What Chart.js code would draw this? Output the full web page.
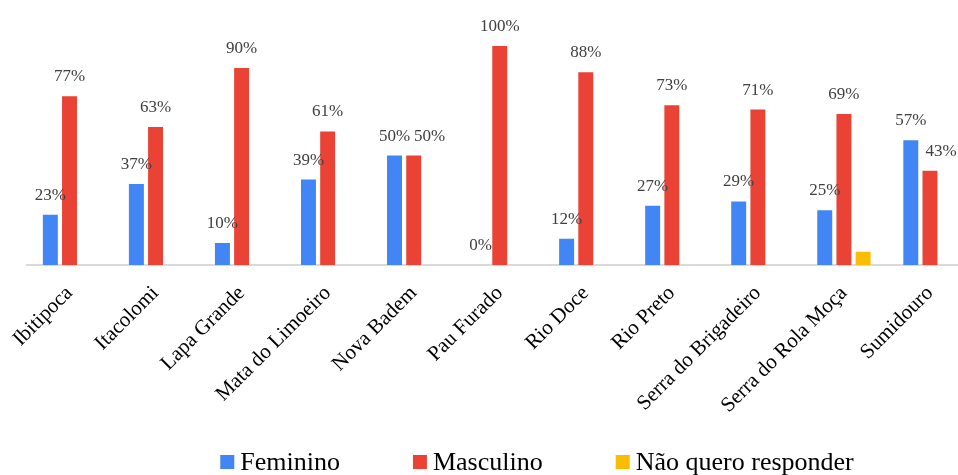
<!DOCTYPE html>
<html>
<head>
<meta charset="utf-8">
<script src="https://cdn.jsdelivr.net/npm/chart.js@4.4.0/dist/chart.umd.min.js"></script>
<style>
  html, body { margin: 0; padding: 0; background: #fff; overflow: hidden; width: 958px; height: 475px; }
  #wrap { width: 958px; height: 475px; overflow: hidden; position: relative; }
  canvas { display: block; }
</style>
</head>
<body>
<div id="wrap"><canvas id="chart" width="990" height="475"></canvas></div>
<script>
// Parques: respostas por sexo (%)
const categories = [
  'Ibitipoca', 'Itacolomi', 'Lapa Grande', 'Mata do Limoeiro', 'Nova Badem',
  'Pau Furado', 'Rio Doce', 'Rio Preto', 'Serra do Brigadeiro',
  'Serra do Rola Moça', 'Sumidouro'
];
const feminino     = [23, 37, 10, 39, 50, 0, 12, 27, 29, 25, 57];
const masculino    = [77, 63, 90, 61, 50, 100, 88, 73, 71, 69, 43];
const naoResponder = [0, 0, 0, 0, 0, 0, 0, 0, 0, 6, 0];
const seriesNames  = ['Feminino', 'Masculino', 'Não quero responder'];
const seriesColors = ['#4285F4', '#EA4335', '#FBBC04'];

const SERIF = '"Liberation Serif", "Times New Roman", Times, serif';
Chart.defaults.font.family = SERIF;

// Percent labels above the bars of the series that show values
const valueLabels = {
  id: 'valueLabels',
  afterDatasetsDraw(chart, args, o) {
    const ctx = chart.ctx;
    ctx.save();
    ctx.font = o.font;
    ctx.fillStyle = o.color;
    ctx.textAlign = 'center';
    ctx.textBaseline = 'alphabetic';
    chart.data.datasets.forEach((ds, di) => {
      if (!ds.showValues) return;
      chart.getDatasetMeta(di).data.forEach((bar, i) => {
        const nudge = (o.nudges || []).find(n => n.dataset === di && n.index === i);
        ctx.fillText(ds.data[i] + '%', bar.x + (nudge ? nudge.dx : 0), bar.y - o.gap);
      });
    });
    ctx.restore();
  }
};

// Single-row legend with square swatches, centred on a given x
const bottomLegend = {
  id: 'bottomLegend',
  afterDraw(chart, args, o) {
    const ctx = chart.ctx;
    ctx.save();
    ctx.font = o.font;
    ctx.textAlign = 'left';
    ctx.textBaseline = 'alphabetic';
    const items = chart.data.datasets.map(ds => ({
      text: ds.label, color: ds.backgroundColor, w: ctx.measureText(ds.label).width
    }));
    const total = items.reduce((s, it) => s + o.box + o.textGap + it.w, 0) + o.itemGap * (items.length - 1);
    let x = o.centerX - total / 2;
    items.forEach(it => {
      ctx.fillStyle = it.color;
      ctx.fillRect(x, o.boxTop, o.box, o.box);
      ctx.fillStyle = o.color;
      ctx.fillText(it.text, x + o.box + o.textGap, o.baseline);
      x += o.box + o.textGap + it.w + o.itemGap;
    });
    ctx.restore();
  }
};

new Chart(document.getElementById('chart'), {
  type: 'bar',
  data: {
    labels: categories,
    datasets: [
      { label: seriesNames[0], data: feminino,     backgroundColor: seriesColors[0], showValues: true },
      { label: seriesNames[1], data: masculino,    backgroundColor: seriesColors[1], showValues: true },
      { label: seriesNames[2], data: naoResponder, backgroundColor: seriesColors[2], showValues: false }
    ]
  },
  options: {
    responsive: false,
    animation: false,
    events: [],
    layout: { padding: { left: 26.5, right: 17, top: 46, bottom: 0 } },
    datasets: { bar: { categoryPercentage: 0.669, barPercentage: 0.78, borderWidth: 0 } },
    plugins: {
      legend: { display: false },
      tooltip: { enabled: false },
      valueLabels: {
        font: '17px ' + SERIF,
        color: '#404040',
        gap: 15,
        nudges: [
          { dataset: 1, index: 4, dx: 16 },
          { dataset: 1, index: 10, dx: 11 }
        ]
      },
      bottomLegend: {
        font: '26px ' + SERIF,
        color: '#000000',
        centerX: 537,
        baseline: 470,
        boxTop: 455,
        box: 14,
        textGap: 6,
        itemGap: 73
      }
    },
    scales: {
      x: {
        z: 1,
        grid: { display: false, drawTicks: false },
        border: { display: true, color: '#d9d9d9', width: 2 },
        ticks: {
          autoSkip: false,
          minRotation: 45,
          maxRotation: 45,
          padding: 16,
          color: '#000000',
          font: { family: SERIF, size: 21 }
        },
        afterFit(scale) {
          // fixed axis band; keep the rotated labels from narrowing the plot
          scale.height = 210;
          scale.paddingLeft = 0;
          scale.paddingRight = 0;
        }
      },
      y: { display: false, min: 0, max: 100 }
    }
  },
  plugins: [valueLabels, bottomLegend]
});
</script>
</body>
</html>
